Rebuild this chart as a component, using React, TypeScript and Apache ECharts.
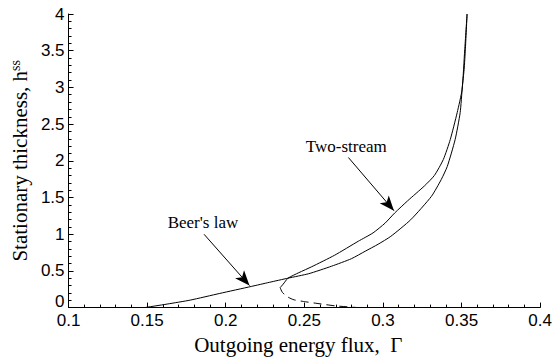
import React, { useEffect, useRef } from 'react';
import * as echarts from 'echarts';

// Axis ranges / ticks
const xMin = 0.1;
const xMax = 0.4;
const xStep = 0.05;
const yMin = 0;
const yMax = 4;
const yStep = 0.5;

// Beer's law curve: [Gamma, h_ss]
const beersLaw: [number, number][] = [
  [0.1484, 0], [0.1627, 0.048], [0.1774, 0.102], [0.1962, 0.193], [0.2162, 0.288],
  [0.2277, 0.344], [0.2396, 0.401], [0.2528, 0.462], [0.2673, 0.564], [0.2799, 0.666],
  [0.2887, 0.768], [0.2969, 0.863], [0.305, 0.971], [0.3176, 1.196], [0.3308, 1.515],
  [0.3371, 1.746], [0.3409, 1.923], [0.3459, 2.289], [0.3491, 2.656], [0.3505, 3.01],
  [0.3516, 3.24], [0.3524, 3.512], [0.3535, 4.0],
];

// Two-stream curve, stable (solid) branch
const twoStream: [number, number][] = [
  [0.2346, 0.272], [0.2365, 0.319], [0.2396, 0.401], [0.2465, 0.476], [0.2547, 0.557],
  [0.2692, 0.713], [0.2843, 0.904], [0.2937, 1.018], [0.3013, 1.15], [0.3075, 1.29],
  [0.3157, 1.455], [0.3264, 1.658], [0.3327, 1.8], [0.3384, 2.018], [0.3428, 2.289],
  [0.3472, 2.656], [0.3503, 2.969], [0.352, 3.512], [0.3535, 4.0],
];

// Two-stream curve, unstable (dashed) branch
const twoStreamUnstable: [number, number][] = [
  [0.2346, 0.272], [0.236, 0.207], [0.2396, 0.143], [0.2434, 0.106], [0.2508, 0.079],
  [0.2581, 0.057], [0.2696, 0.024], [0.2822, 0.003], [0.2843, 0],
];

// Annotations
const beerLabel = { text: "Beer's law", at: [0.1855, 1.162] };
const twoLabel = { text: 'Two-stream', at: [0.2767, 2.194] };
const beerArrow: [number, number][] = [[0.1862, 0.999], [0.2151, 0.3]];
const twoArrow: [number, number][] = [[0.278, 2.045], [0.307, 1.32]];

const serif = 'Liberation Serif';
const sans = 'Liberation Sans';

export default function App() {
  const ref = useRef<HTMLDivElement>(null);
  useEffect(() => {
    if (!ref.current) return;
    const chart = echarts.init(ref.current, null, { renderer: 'svg' });
    const axisCommon = {
      axisLine: { show: true, onZero: false, lineStyle: { color: '#000', width: 1 } },
      axisTick: { show: true, inside: true, length: 5, lineStyle: { color: '#000', width: 1 } },
      minorTick: { show: true, splitNumber: 5, length: 3, lineStyle: { color: '#000', width: 1 } },
      splitLine: { show: false },
      minorSplitLine: { show: false },
    };
    const fmt = (v: number) => String(+v.toFixed(2));
    const mkLabel = (l: { text: string; at: number[] }) => ({
      coord: l.at,
      symbol: 'rect',
      symbolSize: 1,
      itemStyle: { color: 'rgba(0,0,0,0)' },
      label: {
        show: true,
        position: 'inside',
        formatter: l.text,
        color: '#000',
        fontFamily: serif,
        fontSize: 17,
      },
    });
    chart.setOption({
      animation: false,
      grid: { left: 67, right: 11, top: 14, bottom: 51.5 },
      xAxis: {
        type: 'value',
        min: xMin,
        max: xMax,
        interval: xStep,
        ...axisCommon,
        axisLabel: {
          color: '#000', fontFamily: sans, fontSize: 17, lineHeight: 14, margin: 6, formatter: fmt,
        },
        name: 'Outgoing energy flux,\u00a0 Γ',
        nameLocation: 'middle',
        nameGap: 22,
        nameTextStyle: { color: '#000', fontFamily: serif, fontSize: 21, padding: [0, 12, 0, 0] },
      },
      yAxis: {
        type: 'value',
        min: yMin,
        max: yMax,
        interval: yStep,
        ...axisCommon,
        axisLabel: {
          color: '#000', fontFamily: sans, fontSize: 17, lineHeight: 14, margin: 4,
          formatter: (v: number) => (v === 0 ? '{z|0}' : fmt(v)),
          rich: {
            z: { color: '#000', fontFamily: sans, fontSize: 17, lineHeight: 14, padding: [0, 0, 13, 0] },
          },
        },
        name: '{m|Stationary thickness, h}{sup|ss}',
        nameLocation: 'middle',
        nameGap: 27,
        nameTextStyle: {
          color: '#000',
          fontFamily: serif,
          fontSize: 21,
          rich: {
            m: { fontFamily: serif, fontSize: 21, color: '#000', verticalAlign: 'bottom', lineHeight: 22 },
            sup: { fontFamily: serif, fontSize: 14, color: '#000', verticalAlign: 'top', lineHeight: 16 },
          },
        },
      },
      series: [
        {
          type: 'line',
          name: "Beer's law",
          data: beersLaw,
          smooth: 0.2,
          showSymbol: false,
          lineStyle: { color: '#000', width: 1 },
          markLine: {
            silent: true,
            symbol: ['none', 'arrow'],
            symbolSize: [9, 15],
            lineStyle: { color: '#000', width: 1, type: 'solid' },
            itemStyle: { color: '#000' },
            label: { show: false },
            data: [
              [{ coord: beerArrow[0] }, { coord: beerArrow[1] }],
              [{ coord: twoArrow[0] }, { coord: twoArrow[1] }],
            ],
          },
          markPoint: {
            silent: true,
            data: [mkLabel(beerLabel), mkLabel(twoLabel)],
          },
        },
        {
          type: 'line',
          name: 'Two-stream',
          data: twoStream,
          smooth: 0.2,
          showSymbol: false,
          lineStyle: { color: '#000', width: 1 },
        },
        {
          type: 'line',
          name: 'Two-stream unstable',
          data: twoStreamUnstable,
          smooth: 0.2,
          showSymbol: false,
          lineStyle: { color: '#000', width: 1, type: [8, 5] },
        },
      ],
    });
    return () => chart.dispose();
  }, []);
  return (
    <div
      ref={ref}
      style={{ position: 'absolute', left: 0, top: 0, width: 555, height: 360, background: '#fff' }}
    />
  );
}
